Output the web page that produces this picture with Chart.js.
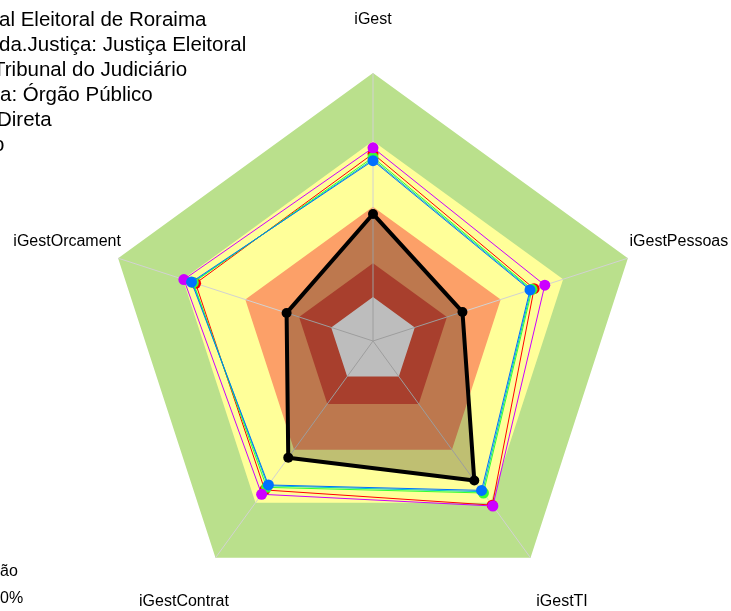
<!DOCTYPE html>
<html>
<head>
<meta charset="utf-8">
<script src="https://cdn.jsdelivr.net/npm/chart.js@4.4.1/dist/chart.umd.min.js"></script>
<style>
  body { margin: 0; background: #fff; overflow: hidden; }
  #wrap { position: relative; width: 731px; height: 611px; overflow: hidden; }
  .info { position: absolute; white-space: nowrap; font-family: 'Liberation Sans', Arial, sans-serif; color: #000; }
  .info .pre { position: absolute; right: 100%; top: 0; }
  .top { font-size: 20.5px; line-height: 25px; }
  .bottom { font-size: 16px; line-height: 20px; }
</style>
</head>
<body>
<div id="wrap">
  <canvas id="radar" width="731" height="611"></canvas>
</div>
<script>
// axes, clockwise from the top
const axisLabels = ['iGest', 'iGestPessoas', 'iGestTI', 'iGestContrat', 'iGestOrcament'];

// series (fraction of the outer ring)
const magentaVals = [0.721, 0.674, 0.761, 0.707, 0.742];
const redVals     = [0.699, 0.632, 0.757, 0.687, 0.696];
const greenVals   = [0.685, 0.624, 0.701, 0.675, 0.705];
const cyanVals    = [0.678, 0.620, 0.695, 0.668, 0.708];
const blueVals    = [0.673, 0.616, 0.689, 0.664, 0.712];
const orgVals     = [0.474, 0.351, 0.643, 0.538, 0.339];

// background rings, outer to inner
const bandLimits = [1.0, 0.746, 0.501, 0.29, 0.164];
const bandColors = ['#BAE08C', '#FFFF99', '#FCA068', '#E0553C', '#FDFDFD'];

// cropped info text (hidden part, visible part)
const infoTop = [
  ['Tribunal Region', 'al Eleitoral de Roraima'],
  ['Ramo.', 'da.Justiça: Justiça Eleitoral'],
  ['Segmento: ', 'Tribunal do Judiciário'],
  ['Natureza Jurídic', 'a: Órgão Público'],
  ['Administração: ', 'Direta'],
  ['Poder: Judiciári', 'o']
];
const infoBottom = [
  ['Classificaç', 'ão'],
  ['Meta: 10', '0%']
];

const wrap = document.getElementById('wrap');
// x of the visible part of each line
const topX = [-1, -1, -7, 0, -3, -7];
infoTop.forEach((ln, i) => {
  const d = document.createElement('div');
  d.className = 'info top';
  d.style.left = topX[i] + 'px';
  d.style.top = (5.5 + i * 25) + 'px';
  d.innerHTML = '<span class="pre">' + ln[0] + '</span>' + ln[1];
  wrap.appendChild(d);
});
infoBottom.forEach((ln, i) => {
  const d = document.createElement('div');
  d.className = 'info bottom';
  d.style.left = '0px';
  d.style.top = (561 + i * 27) + 'px';
  d.innerHTML = '<span class="pre">' + ln[0] + '</span>' + ln[1];
  wrap.appendChild(d);
});

function series(label, data, color, pointR) {
  return {
    label: label,
    data: data,
    borderColor: color,
    borderWidth: 1,
    backgroundColor: color,
    pointBackgroundColor: color,
    pointBorderWidth: 0,
    pointRadius: pointR,
    fill: false
  };
}

// index 0 is painted last (on top)
const datasets = [
  series('blue', blueVals, '#0070FF', 5.5),
  series('magenta', magentaVals, '#CC00FF', 5.5),
  series('green', greenVals, '#33FF33', 5.5),
  series('cyan', cyanVals, '#00C8C8', 0),
  series('red', redVals, '#FF0000', 5.5),
  {
    label: 'org',
    data: orgVals,
    borderColor: '#000000',
    borderWidth: 4,
    borderJoinStyle: 'round',
    backgroundColor: 'rgba(0,0,0,0.25)',
    pointBackgroundColor: '#000000',
    pointBorderWidth: 0,
    pointRadius: 5,
    fill: 'origin'
  }
];
const firstBand = datasets.length;
// rings: innermost first in the list, so the outer ring is painted first
bandLimits.slice().reverse().forEach((lim, i) => {
  const c = bandColors[bandColors.length - 1 - i];
  datasets.push({
    label: 'band' + i,
    data: axisLabels.map(() => lim),
    borderWidth: 0,
    borderColor: c,
    backgroundColor: c,
    pointRadius: 0,
    fill: 'origin'
  });
});

const radarDecor = {
  id: 'radarDecor',
  afterDatasetDraw(chart, args) {
    // spokes over the rings, under the series
    if (args.index !== firstBand) return;
    const scale = chart.scales.r;
    const ctx = chart.ctx;
    ctx.save();
    ctx.strokeStyle = '#D2D2D2';
    ctx.lineWidth = 1;
    for (let i = 0; i < axisLabels.length; i++) {
      const p = scale.getPointPositionForValue(i, scale.max);
      ctx.beginPath();
      ctx.moveTo(scale.xCenter, scale.yCenter);
      ctx.lineTo(p.x, p.y);
      ctx.stroke();
    }
    ctx.restore();
  },
  afterDraw(chart) {
    const scale = chart.scales.r;
    const ctx = chart.ctx;
    ctx.save();
    ctx.font = "16px 'Liberation Sans', Arial, sans-serif";
    ctx.fillStyle = '#000';
    ctx.textAlign = 'center';
    ctx.textBaseline = 'middle';
    axisLabels.forEach((lbl, i) => {
      const p = scale.getPointPosition(i, scale.drawingArea * 1.2);
      ctx.fillText(lbl, p.x, p.y);
    });
    ctx.restore();
  }
};

new Chart(document.getElementById('radar'), {
  type: 'radar',
  data: { labels: axisLabels, datasets: datasets },
  options: {
    responsive: false,
    animation: false,
    layout: { padding: { top: 73, bottom: 2, left: 105, right: 90 } },
    elements: { line: { tension: 0 } },
    plugins: { legend: { display: false }, tooltip: { enabled: false } },
    scales: {
      r: {
        min: 0,
        max: 1,
        ticks: { display: false },
        grid: { display: false },
        angleLines: { display: false },
        pointLabels: { display: false }
      }
    }
  },
  plugins: [radarDecor]
});
</script>
</body>
</html>
